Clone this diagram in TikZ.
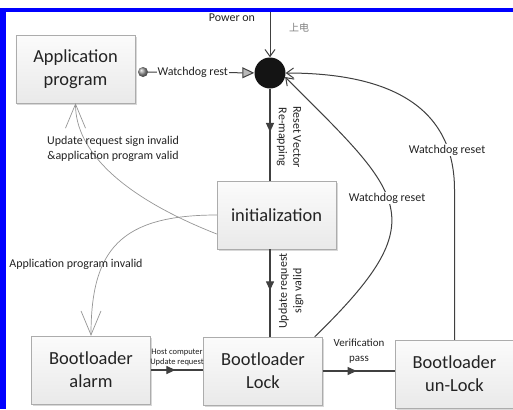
\documentclass[tikz,border=0pt]{standalone}
\usepackage{fontspec}
\setmainfont{Carlito}
\newfontfamily\cjkfont{Noto Sans CJK SC}
\usetikzlibrary{
  arrows.meta,
  positioning,
  shadows,
  decorations.markings
}
\definecolor{FrameBlue}{RGB}{0,0,255}
\definecolor{BoxLine}{RGB}{172,172,172}
\definecolor{LineGray}{RGB}{64,64,64}
\definecolor{CurveGray}{RGB}{150,150,150}
\definecolor{TextGray}{RGB}{35,35,35}
\tikzset{
  statebox/.style={draw=BoxLine,top color=gray!3,bottom color=gray!17,minimum width=119bp,minimum height=68bp,inner sep=0pt,align=center,font=\fontsize{18.5}{23}\selectfont,text=TextGray,drop shadow={shadow xshift=1.5bp,shadow yshift=-1.5bp,opacity=.3}},
  flowarrow/.style={draw=LineGray,line width=1.1bp,postaction={decorate},decoration={markings,mark=at position #1 with {\arrow{Triangle[length=9bp,width=8bp,color=LineGray]}}}},
  flowarrow/.default=0.5,
  resetarrow/.style={-{Straight Barb[length=7bp,width=10bp]},line width=1bp,draw=LineGray},
  branchcurve/.style={-{Straight Barb[length=24bp,width=20bp]},line width=.7bp,draw=CurveGray},
  smalllabel/.style={font=\fontsize{12}{14.5}\selectfont,text=TextGray,align=center,inner sep=1pt},
  tinylabel/.style={font=\fontsize{8.5}{10}\selectfont,text=TextGray,align=center,inner sep=1pt}
}

\begin{document}
\begin{tikzpicture}[x=1bp,y=-1bp]
\useasboundingbox[fill=white] (0,0) rectangle (513,409);
\fill[FrameBlue] (0,8) rectangle (513,12);
\fill[FrameBlue] (0,8) rectangle (6,409);

\node[statebox] (app) at (75.5,69) {Application\\program};
\node[circle,fill=black!92,minimum size=31bp,inner sep=0pt] (dot) at (270,73) {};
\node[circle,ball color=gray!80,minimum size=10bp,inner sep=0pt] (ball) at (143,72) {};
\node[statebox] (init) at (276.5,215) {initialization};
\node[statebox] (alarm) at (91,370) {Bootloader\\alarm};
\node[statebox] (lock) at (263,371) {Bootloader\\Lock};
\node[statebox] (unlock) at (454.5,374) {Bootloader\\un-Lock};
\coordinate (pwr) at (270,12);

\draw[resetarrow] (pwr) -- (dot.north);
\node[smalllabel] (pwrtxt) at (232,18) {Power on};
\node[font=\cjkfont\fontsize{10}{12}\selectfont,text=gray] (pwrcn) at (299,28) {上电};

\draw[draw=LineGray,line width=1bp,-{Triangle[length=12bp,width=11bp,fill=gray!55]}] (ball) -- node[smalllabel,fill=white,pos=.42] (wdrest) {Watchdog rest} (dot);

\draw[flowarrow=.47] (dot.south) -- (dot.south |- init.north);
\node[smalllabel,rotate=-90] (remap) at (289,137) {Reset Vector\\Re-mapping};

\draw[flowarrow=.47] (init.south -| dot) -- (lock.north -| dot);
\node[smalllabel,rotate=90] (upd) at (291,291) {Update request\\sign valid};

\draw[flowarrow=.47] (alarm.east) -- (alarm.east -| lock.west);
\node[tinylabel] (host) at (177,357) {Host computer\\Update request};

\draw[flowarrow=.47] (lock.east) -- (lock.east -| unlock.west);
\node[smalllabel,font=\fontsize{11}{15}\selectfont] (verif) at (359,351) {Verification\\pass};

\draw[resetarrow] ([xshift=-8bp]lock.north east) .. controls +(122,-119) and +(119,119) .. (dot.-15);
\node[smalllabel,fill=white] (wdinner) at (387,198) {Watchdog reset};

\draw[resetarrow] (unlock.north) -- ++(0,-150) .. controls +(0,-90) and +(93,0) .. (dot.east);
\node[smalllabel,fill=white] (wdouter) at (447,150) {Watchdog reset};

\draw[branchcurve] ([yshift=-19bp]init.west) .. controls (120,196) and (75.5,150) .. (app.south);
\node[smalllabel] (appvalid) at (113,149) {Update request sign invalid\\\&application program valid};

\draw[branchcurve] (init.west) .. controls (120,215) and (91,250) .. (alarm.north);
\node[smalllabel] (appinvalid) at (76,264) {Application program invalid};
\end{tikzpicture}
\end{document}
